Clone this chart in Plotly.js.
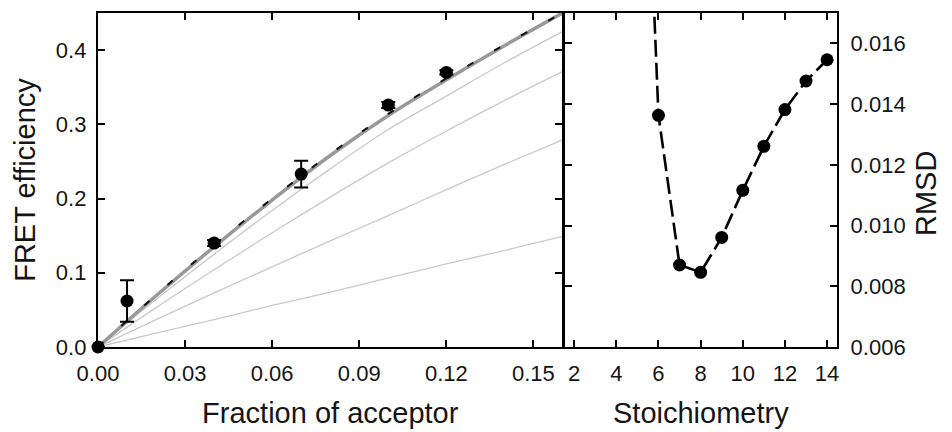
<!DOCTYPE html>
<html>
<head>
<meta charset="utf-8">
<script src="https://cdn.plot.ly/plotly-3.0.1.min.js"></script>
<style>
  html, body { margin: 0; padding: 0; background: #fff; }
  #chart { width: 952px; height: 432px; }
</style>
</head>
<body>
<div id="chart"></div>
<script>
// Measured FRET efficiency versus acceptor fraction
const fraction = [0, 0.01, 0.04, 0.07, 0.10, 0.12];
const fretEff = [0, 0.062, 0.140, 0.233, 0.326, 0.370];
const fretErr = [0, 0.028, 0.004, 0.018, 0.004, 0.003];

// Model curves sampled along the acceptor fraction axis
const modelX = [0, 0.02, 0.04, 0.06, 0.08, 0.10, 0.12, 0.14, 0.16];
const modelBest = [0, 0.069, 0.135, 0.198, 0.258, 0.312, 0.360, 0.406, 0.450];
const modelFit = [0, 0.070, 0.137, 0.200, 0.260, 0.314, 0.362, 0.407, 0.450];
const modelA = [0, 0.064, 0.125, 0.184, 0.240, 0.293, 0.338, 0.383, 0.425];
const modelB = [0, 0.053, 0.104, 0.154, 0.202, 0.248, 0.291, 0.332, 0.371];
const modelC = [0, 0.037, 0.073, 0.108, 0.143, 0.177, 0.212, 0.246, 0.279];
const modelD = [0, 0.0186, 0.037, 0.056, 0.074, 0.093, 0.112, 0.130, 0.149];

// Fit quality versus assumed stoichiometry
const stoich = [5, 6, 7, 8, 9, 10, 11, 12, 13, 14];
const rmsd = [0.0305, 0.01363, 0.0087, 0.00846, 0.00961, 0.01116, 0.01261, 0.01382, 0.01476, 0.01546];

// Axis tick labels
const fracTicks = [0, 0.03, 0.06, 0.09, 0.12, 0.15];
const effTicks = [0, 0.1, 0.2, 0.3, 0.4];
const stoichTicks = [2, 4, 6, 8, 10, 12, 14];
const rmsdTicks = [0.006, 0.008, 0.010, 0.012, 0.014, 0.016];

const FONT = 'Liberation Sans, Arial, Helvetica, sans-serif';
const TICK_FONT = { family: FONT, size: 22, color: '#151515' };
const TITLE_FONT = { family: FONT, size: 29, color: '#151515' };

function thinCurve(y) {
  return {
    x: modelX, y: y, type: 'scatter', mode: 'lines',
    line: { color: '#c9c9c9', width: 1.3, shape: 'spline' },
    xaxis: 'x', yaxis: 'y', hoverinfo: 'skip', showlegend: false
  };
}

const traces = [
  thinCurve(modelD),
  thinCurve(modelC),
  thinCurve(modelB),
  thinCurve(modelA),
  {
    x: modelX, y: modelBest, type: 'scatter', mode: 'lines',
    line: { color: '#999999', width: 3.5, shape: 'spline' },
    xaxis: 'x', yaxis: 'y', showlegend: false
  },
  {
    x: modelX, y: modelFit, type: 'scatter', mode: 'lines',
    line: { color: '#111111', width: 2, dash: '7px,24px', shape: 'spline' },
    xaxis: 'x', yaxis: 'y', showlegend: false
  },
  {
    x: fraction, y: fretEff, type: 'scatter', mode: 'markers',
    marker: { color: '#000', size: 13 },
    error_y: { type: 'data', array: fretErr, visible: true, color: '#000', thickness: 2, width: 7 },
    cliponaxis: false,
    xaxis: 'x', yaxis: 'y', showlegend: false
  },
  {
    x: stoich, y: rmsd, type: 'scatter', mode: 'lines+markers',
    line: { color: '#000', width: 2.6, dash: '17px,6px' },
    marker: { color: '#000', size: 13 },
    xaxis: 'x2', yaxis: 'y2', showlegend: false
  }
];

const axisBase = {
  showline: true, linecolor: '#000', linewidth: 2.2,
  ticks: 'inside', ticklen: 7, tickwidth: 2, tickcolor: '#000',
  mirror: 'ticks', showgrid: false, zeroline: false,
  tickfont: TICK_FONT,
  fixedrange: true
};

// the two panels share one boundary line
const leftEnd = 0.6285;
const rightStart = 0.6315;

const layout = {
  width: 952, height: 432,
  margin: { l: 98, r: 115, t: 13, b: 85 },
  paper_bgcolor: '#fff', plot_bgcolor: '#fff',
  font: { family: FONT, color: '#151515' },
  showlegend: false,
  xaxis: Object.assign({}, axisBase, {
    domain: [0, leftEnd], range: [0, 0.16],
    tickvals: fracTicks, ticktext: fracTicks.map(v => v.toFixed(2)),
    ticklabelstandoff: 5,
    title: { text: 'Fraction of acceptor', font: TITLE_FONT, standoff: 18 }
  }),
  yaxis: Object.assign({}, axisBase, {
    anchor: 'x', range: [0, 0.45],
    tickvals: effTicks, ticktext: effTicks.map(v => v.toFixed(1)),
    ticklabelstandoff: 5,
    title: { text: 'FRET efficiency', font: TITLE_FONT, standoff: 12 }
  }),
  xaxis2: Object.assign({}, axisBase, {
    domain: [rightStart, 1], range: [1.55, 14.47], anchor: 'y2',
    tickvals: stoichTicks, ticktext: stoichTicks.map(String),
    ticklabelstandoff: 5,
    title: { text: 'Stoichiometry', font: TITLE_FONT, standoff: 18 }
  }),
  yaxis2: Object.assign({}, axisBase, {
    anchor: 'x2', side: 'right', range: [0.006, 0.017],
    tickvals: rmsdTicks, ticktext: rmsdTicks.map(v => v.toFixed(3)),
    ticklabelstandoff: 7
  }),
  annotations: [{
    text: 'RMSD', font: TITLE_FONT, textangle: -90,
    xref: 'paper', yref: 'paper', x: 1.1204, y: 0.461,
    xanchor: 'center', yanchor: 'middle', showarrow: false
  }]
};

Plotly.newPlot('chart', traces, layout, { displayModeBar: false, staticPlot: true });
</script>
</body>
</html>
